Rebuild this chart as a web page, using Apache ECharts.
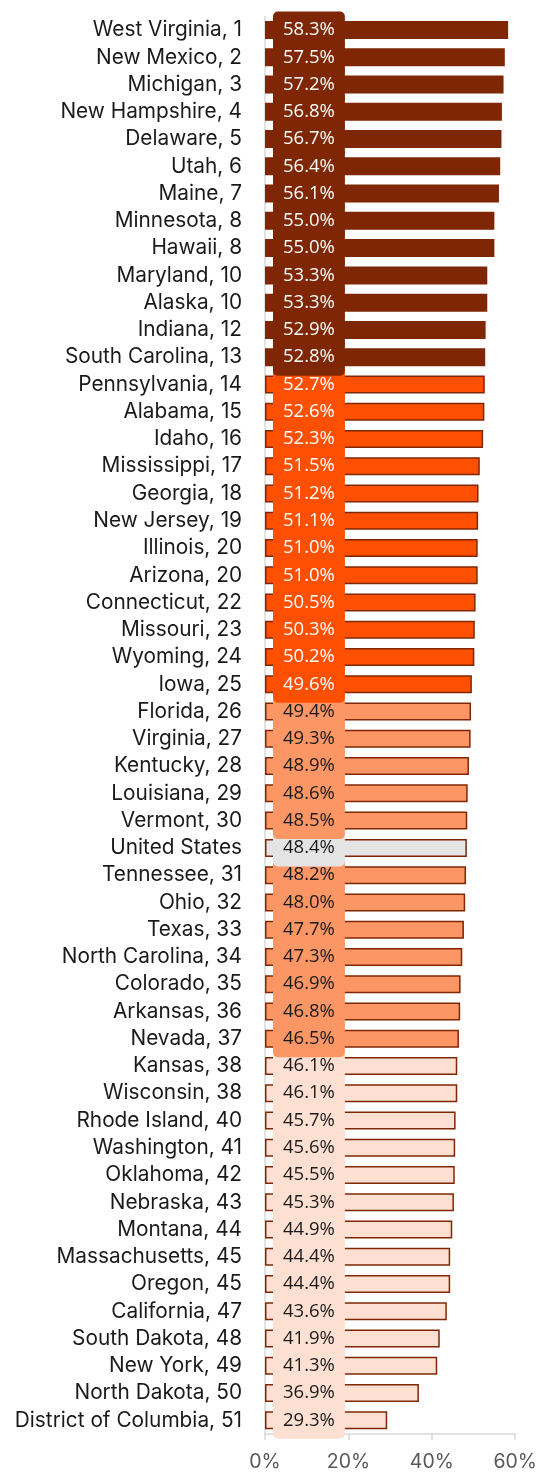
<!DOCTYPE html>
<html>
<head>
<meta charset="utf-8">
<script src="https://cdn.jsdelivr.net/npm/echarts@6/dist/echarts.min.js"></script>
<style>
  html, body { margin: 0; padding: 0; background: #ffffff; }
  #chart { width: 540px; height: 1474px; }
</style>
</head>
<body>
<div id="chart"></div>
<script>
// Categories, top to bottom as shown
const categories = [
  "West Virginia, 1", "New Mexico, 2", "Michigan, 3", "New Hampshire, 4", "Delaware, 5",
  "Utah, 6", "Maine, 7", "Minnesota, 8", "Hawaii, 8", "Maryland, 10", "Alaska, 10",
  "Indiana, 12", "South Carolina, 13", "Pennsylvania, 14", "Alabama, 15", "Idaho, 16",
  "Mississippi, 17", "Georgia, 18", "New Jersey, 19", "Illinois, 20", "Arizona, 20",
  "Connecticut, 22", "Missouri, 23", "Wyoming, 24", "Iowa, 25", "Florida, 26",
  "Virginia, 27", "Kentucky, 28", "Louisiana, 29", "Vermont, 30", "United States",
  "Tennessee, 31", "Ohio, 32", "Texas, 33", "North Carolina, 34", "Colorado, 35",
  "Arkansas, 36", "Nevada, 37", "Kansas, 38", "Wisconsin, 38", "Rhode Island, 40",
  "Washington, 41", "Oklahoma, 42", "Nebraska, 43", "Montana, 44", "Massachusetts, 45",
  "Oregon, 45", "California, 47", "South Dakota, 48", "New York, 49", "North Dakota, 50",
  "District of Columbia, 51"
];
// Values (%)
const values = [
  58.3, 57.5, 57.2, 56.8, 56.7, 56.4, 56.1, 55.0, 55.0, 53.3, 53.3,
  52.9, 52.8, 52.7, 52.6, 52.3, 51.5, 51.2, 51.1, 51.0, 51.0,
  50.5, 50.3, 50.2, 49.6, 49.4, 49.3, 48.9, 48.6, 48.5, 48.4,
  48.2, 48.0, 47.7, 47.3, 46.9, 46.8, 46.5, 46.1, 46.1, 45.7,
  45.6, 45.5, 45.3, 44.9, 44.4, 44.4, 43.6, 41.9, 41.3, 36.9,
  29.3
];
// Tier of each category (0 = highest group ... 3 = lowest, "us" = national)
const tiers = [
  0,0,0,0,0,0,0,0,0,0,0,0,0,
  1,1,1,1,1,1,1,1,1,1,1,1,
  2,2,2,2,2,"us",2,2,2,2,2,2,2,
  3,3,3,3,3,3,3,3,3,3,3,3,3,3
];
const xTicks = [0, 20, 40, 60];

const tierFill = { 0: "#7f2704", 1: "#fe5000", 2: "#fd9665", 3: "#fee0d2", us: "#e4e4e4" };
const tierText = { 0: "#ffffff", 1: "#ffffff", 2: "#1a1a1a", 3: "#1a1a1a", us: "#1a1a1a" };

// reverse so that upper rows are drawn last (label bands stack like the original)
const catsR = categories.slice().reverse();
const dataR = values.map((v, i) => ({
  value: v,
  itemStyle: { color: tierFill[tiers[i]] },
  label: { color: tierText[tiers[i]], backgroundColor: tierFill[tiers[i]] }
})).reverse();

const chart = echarts.init(document.getElementById('chart'), null, { renderer: 'canvas' });
chart.setOption({
  animation: false,
  backgroundColor: '#ffffff',
  grid: { left: 265, right: 22.7, top: 16.4, bottom: 40, containLabel: false },
  xAxis: {
    type: 'value',
    min: xTicks[0], max: xTicks[xTicks.length - 1], interval: 20,
    axisLine: { show: true, lineStyle: { color: '#d9d9d9', width: 1.5 } },
    axisTick: { show: true, length: 6, lineStyle: { color: '#d9d9d9', width: 1.5 } },
    splitLine: { show: false },
    axisLabel: {
      formatter: '{value}%', color: '#595959', fontSize: 19.5,
      fontFamily: 'Inter', margin: 18
    }
  },
  yAxis: {
    type: 'category',
    data: catsR,
    axisLine: { show: true, lineStyle: { color: '#d9d9d9', width: 1.5 } },
    axisTick: { show: false },
    axisLabel: {
      color: '#1a1a1a', fontSize: 20.8, fontFamily: 'Inter', margin: 23,
      interval: 0
    }
  },
  series: [{
    type: 'bar',
    data: dataR,
    barWidth: 18,
    itemStyle: { borderColor: '#7f2704', borderWidth: 1.5 },
    label: {
      show: true,
      position: 'insideLeft',
      distance: 8,
      formatter: p => p.value.toFixed(1) + '%',
      fontSize: 18.5,
      fontFamily: 'Open Sans',
      lineHeight: 20,
      padding: [8.5, 10],
      borderRadius: 5
    }
  }]
});
</script>
</body>
</html>
